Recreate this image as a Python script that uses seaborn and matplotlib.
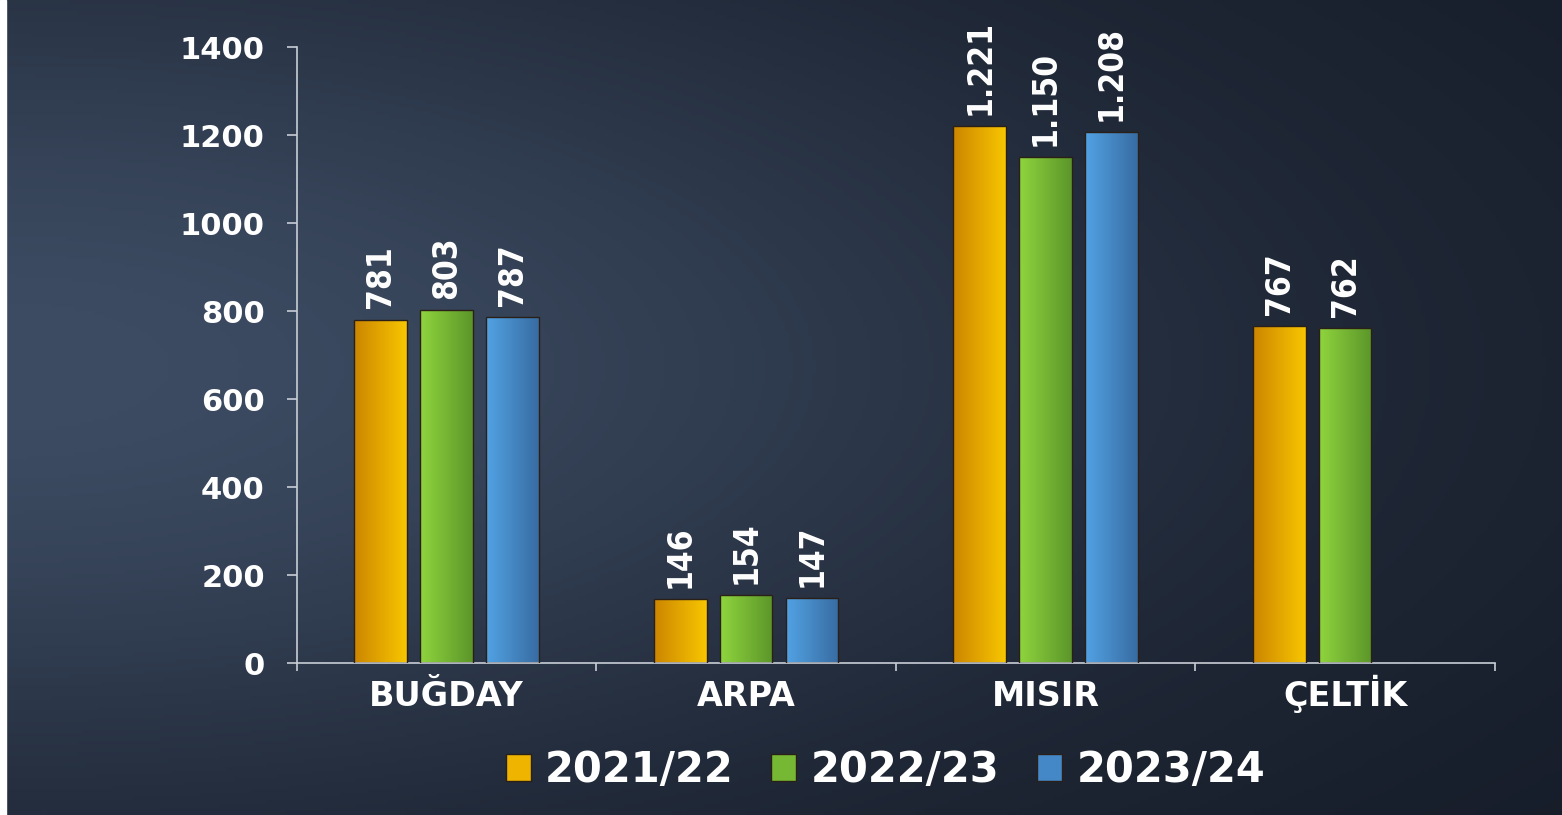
import numpy as np
import pandas as pd
import matplotlib
matplotlib.use('Agg')
import matplotlib.pyplot as plt
import seaborn as sns
from matplotlib.colors import LinearSegmentedColormap, to_rgb
from matplotlib.patches import Patch, Rectangle

# data
crops = ['BUĞDAY', 'ARPA', 'MISIR', 'ÇELTİK']
seasons = ['2021/22', '2022/23', '2023/24']
v_2021_22 = [781, 146, 1221, 767]
v_2022_23 = [803, 154, 1150, 762]
v_2023_24 = [787, 147, 1208, np.nan]

df = pd.DataFrame({
    'crop': crops * 3,
    'season': np.repeat(seasons, len(crops)),
    'value': v_2021_22 + v_2022_23 + v_2023_24,
})

# left -> right gradient colours for each season
grad_colors = {
    '2021/22': ('#cc8600', '#f8c600'),
    '2022/23': ('#8fd43e', '#5c962a'),
    '2023/24': ('#52a2e4', '#386ca2'),
}
mid_colors = {'2021/22': '#eeb400', '2022/23': '#76b834', '2023/24': '#4588c8'}

sns.set_theme(style='ticks')
plt.rcParams['font.family'] = ['DejaVu Sans']

fig = plt.figure(figsize=(15.62, 8.15), dpi=100)

# background gradient
bg = fig.add_axes([0, 0, 1, 1], zorder=-10)
gx, gy = np.meshgrid(np.linspace(0, 1, 400), np.linspace(0, 1, 220))
t = np.exp(-(gx / 0.75) ** 2 - ((gy - 0.45) / 0.55) ** 2)
light = np.array(to_rgb('#3d4c63'))
dark = np.array(to_rgb('#151b27'))
img = dark[None, None, :] * (1 - t[..., None]) + light[None, None, :] * t[..., None]
bg.imshow(img, aspect='auto', extent=[0, 1, 0, 1])
bg.axis('off')
fig.patches.append(Rectangle((0, 0), 6 / 1562, 1, transform=fig.transFigure,
                             color='white', zorder=-5))

ax = fig.add_axes([0.190, 0.1865, 0.767, 0.7555])
ax.set_facecolor('none')
sns.barplot(data=df, x='crop', y='value', hue='season', hue_order=seasons,
            palette=mid_colors, width=0.66, gap=0.2, saturation=1,
            edgecolor='#2a2018', linewidth=1, legend=False, ax=ax)

# gradient fill on every bar + value labels
grad = np.linspace(0, 1, 64).reshape(1, -1)
for season, cont in zip(seasons, ax.containers):
    cmap = LinearSegmentedColormap.from_list(season, grad_colors[season])
    for bar in cont:
        h = bar.get_height()
        if not np.isfinite(h) or h == 0:
            continue
        x0, w = bar.get_x(), bar.get_width()
        im = ax.imshow(grad, extent=[x0, x0 + w, 0, h], aspect='auto',
                       cmap=cmap, zorder=2)
        im.set_clip_path(bar)
        bar.set_facecolor('none')
        bar.set_zorder(3)
        ax.annotate(f'{int(h):,}'.replace(',', '.'), (x0 + w / 2, h),
                    xytext=(0, 8), textcoords='offset points',
                    rotation=90, ha='center', va='bottom', color='white',
                    fontsize=24, fontweight='bold', fontstretch='condensed',
                    family='DejaVu Sans')

ax.set_xlim(-0.5, 3.5)
ax.set_ylim(0, 1400)
ax.set_yticks(range(0, 1401, 200))
ax.set_xticks([-0.5, 0.5, 1.5, 2.5, 3.5], minor=True)
ax.set_xlabel('')
ax.set_ylabel('')

spine_col = '#c9ced6'
for s in ['top', 'right']:
    ax.spines[s].set_visible(False)
for s in ['left', 'bottom']:
    ax.spines[s].set_color(spine_col)
    ax.spines[s].set_linewidth(1.2)

ax.tick_params(axis='y', colors=spine_col, length=7, width=1.2, pad=16,
               labelcolor='white', labelsize=22)
ax.tick_params(axis='x', which='major', length=0, pad=31,
               labelcolor='white', labelsize=24)
ax.tick_params(axis='x', which='minor', colors=spine_col, length=6, width=1.2)
for lab in ax.get_xticklabels():
    lab.set_fontweight('bold')
    lab.set_verticalalignment('baseline')
for lab in ax.get_yticklabels():
    lab.set_fontweight('bold')

handles = [Patch(facecolor=mid_colors[s], edgecolor='#2a2018', label=s) for s in seasons]
leg = fig.legend(handles=handles, loc='center', bbox_to_anchor=(0.567, 0.055),
                 ncol=3, frameon=False, fontsize=30, handlelength=0.6,
                 handleheight=0.6, handletextpad=0.35, columnspacing=0.9)
for txt in leg.get_texts():
    txt.set_color('white')
    txt.set_fontweight('bold')

fig.savefig('out.png', dpi=100)
